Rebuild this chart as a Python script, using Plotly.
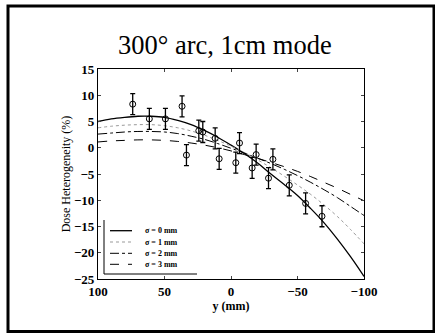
import plotly.graph_objects as go

# ---- data ----
y_meas = [73.9, 61.4, 49.3, 36.8, 33.5, 24.2, 21.2, 11.9, 8.9, -3.6, -6.4,
          -15.9, -18.9, -28.2, -31.5, -43.8, -56.1, -68.4]
dh_meas = [8.3, 5.5, 5.5, 7.9, -1.4, 3.25, 3.0, 1.8, -2.1, -2.85, 0.9,
           -3.85, -1.3, -5.8, -2.2, -7.15, -10.6, -13.05]
err_meas = [2.0] * len(y_meas)

y_model = [100, 90, 80, 70, 60, 50, 40, 30, 20, 10, 0,
           -10, -20, -30, -40, -50, -60, -70, -80, -90, -100]
sigma0 = [5.0, 5.5, 5.8, 6.0, 6.0, 5.8, 5.2, 4.4, 3.3, 2.0, 0.5,
          -1.1, -2.9, -5.0, -7.0, -9.1, -11.6, -14.3, -17.4, -20.8, -24.5]
sigma1 = [3.8, 4.1, 4.3, 4.4, 4.4, 4.2, 3.8, 3.2, 2.4, 1.4, 0.3,
          -0.9, -2.3, -3.8, -5.4, -7.1, -8.9, -10.9, -13.1, -15.6, -18.3]
sigma2 = [2.6, 2.8, 3.0, 3.1, 3.1, 3.0, 2.7, 2.2, 1.6, 0.8, -0.1,
          -1.0, -2.0, -3.0, -4.1, -5.3, -6.6, -8.0, -9.5, -11.2, -12.9]
sigma3 = [1.1, 1.3, 1.4, 1.5, 1.5, 1.4, 1.2, 0.9, 0.5, 0.0, -0.6,
          -1.3, -2.0, -2.8, -3.6, -4.5, -5.5, -6.6, -7.7, -8.9, -10.1]

legend_labels = ["σ = 0 mm", "σ = 1 mm", "σ = 2 mm", "σ = 3 mm"]
x_ticks = [100, 50, 0, -50, -100]
y_ticks = [15, 10, 5, 0, -5, -10, -15, -20, -25]

FONT = "Liberation Serif"
styles = [
    dict(color="black", width=1.3, dash="solid"),
    dict(color="#999999", width=1, dash="dot"),
    dict(color="black", width=1, dash="dashdot"),
    dict(color="black", width=1, dash="dash"),
]
curves = [sigma0, sigma1, sigma2, sigma3]

fig = go.Figure()
for c, st, name in zip(curves, styles, legend_labels):
    fig.add_trace(go.Scatter(x=y_model, y=c, mode="lines", line=st,
                             line_shape="spline", name=name, showlegend=False))

fig.add_trace(go.Scatter(
    x=y_meas, y=dh_meas, mode="markers",
    marker=dict(symbol="circle-open", size=6, color="black", line=dict(width=1)),
    error_y=dict(type="data", array=err_meas, color="black", thickness=1.3, width=2.5),
    showlegend=False))

W, H = 435, 333
ml, mr, mt, mb = 98, 71, 69, 54
pw, ph = W - ml - mr, H - mt - mb


def px(x):
    return (x - ml) / pw


def py(y):
    return (H - mb - y) / ph


shapes = []
# outer frame
shapes.append(dict(type="rect", xref="paper", yref="paper",
                   x0=px(8), x1=px(434), y0=py(331.5), y1=py(6),
                   line=dict(color="black", width=3)))
# legend L-frame
shapes.append(dict(type="line", xref="paper", yref="paper",
                   x0=px(104), x1=px(104), y0=py(274), y1=py(220),
                   line=dict(color="black", width=1)))
shapes.append(dict(type="line", xref="paper", yref="paper",
                   x0=px(104), x1=px(197), y0=py(274), y1=py(274),
                   line=dict(color="black", width=1)))
annotations = []
rows = [230.7, 242, 253.3, 264.3]
for r, st, name in zip(rows, styles, legend_labels):
    shapes.append(dict(type="line", xref="paper", yref="paper",
                       x0=px(110), x1=px(132), y0=py(r), y1=py(r),
                       line=st))
    annotations.append(dict(xref="paper", yref="paper", x=px(143), y=py(r),
                            text=name, showarrow=False, xanchor="left",
                            yanchor="middle",
                            font=dict(family=FONT, size=8, color="black",
                                      weight="bold")))

# title
annotations.append(dict(xref="paper", yref="paper", x=px(225), y=py(45),
                        text="300° arc, 1cm mode", showarrow=False,
                        xanchor="center", yanchor="middle",
                        font=dict(family=FONT, size=26.5, color="black")))

fig.update_layout(
    width=W, height=H,
    margin=dict(l=ml, r=mr, t=mt, b=mb, pad=0),
    paper_bgcolor="white", plot_bgcolor="white",
    shapes=shapes, annotations=annotations,
    font=dict(family=FONT, color="black"),
)
fig.update_xaxes(range=[100, -100], tickvals=x_ticks,
                 ticktext=[str(v).replace("-", "−") for v in x_ticks],
                 ticks="inside", ticklen=3, mirror="ticks", showline=True,
                 linecolor="black", linewidth=1.2, showgrid=False,
                 zeroline=False,
                 tickfont=dict(family=FONT, size=13, color="black", weight="bold"),
                 title=dict(text="y (mm)", standoff=0,
                            font=dict(family=FONT, size=12, color="black",
                                      weight="bold")))
fig.update_yaxes(range=[-25, 15], tickvals=y_ticks,
                 ticktext=[str(v).replace("-", "−") for v in y_ticks],
                 ticks="inside", ticklen=3, mirror="ticks", showline=True,
                 linecolor="black", linewidth=1.2, showgrid=False,
                 zeroline=False,
                 tickfont=dict(family=FONT, size=13, color="black", weight="bold"),
                 title=dict(text="Dose Heterogeneity (%)", standoff=0,
                            font=dict(family=FONT, size=12, color="black")))

fig.write_html("out.html",
               config={"displayModeBar": False},
               post_script="document.body.style.margin='0';"
                           "document.body.style.overflow='hidden';")
